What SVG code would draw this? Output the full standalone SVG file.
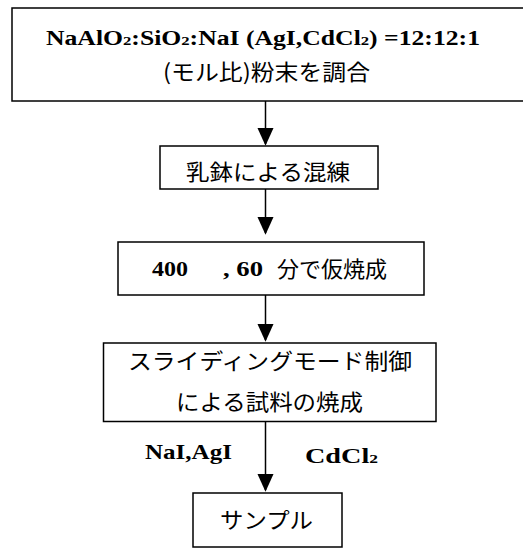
<svg xmlns="http://www.w3.org/2000/svg" width="523" height="549" viewBox="0 0 523 549">
<style>
.box{fill:#fff;stroke:#000;stroke-width:1.5}
.jp{font-family:"Noto Sans CJK JP","Noto Sans",sans-serif;font-size:22px;fill:#000}
.en{font-family:"Liberation Serif","DejaVu Serif",serif;font-weight:bold;font-size:20px;fill:#000}
.lab{font-size:21px}
.sub{font-size:13px}
.line{stroke:#000;stroke-width:1.5;fill:none}
</style>
<defs>
<marker id="ah" markerWidth="18" markerHeight="20" refX="18" refY="9" orient="auto" markerUnits="userSpaceOnUse" viewBox="0 0 20 18">
<path d="M0,0 L20,9 L0,18 Z" fill="#000"/>
</marker>
</defs>
<rect width="523" height="549" fill="#fff"/>
<g id="connectors">
<line class="line" x1="265.5" y1="101" x2="265.5" y2="144" marker-end="url(#ah)"/>
<line class="line" x1="265.5" y1="189" x2="265.5" y2="233" marker-end="url(#ah)"/>
<line class="line" x1="265.5" y1="295" x2="265.5" y2="340" marker-end="url(#ah)"/>
<line class="line" x1="265.5" y1="422" x2="265.5" y2="490" marker-end="url(#ah)"/>
<text class="en lab" x="145" y="459" textLength="87" lengthAdjust="spacingAndGlyphs">NaI,AgI</text>
<text class="en lab" x="305" y="463" textLength="73" lengthAdjust="spacingAndGlyphs">CdCl<tspan class="sub">2</tspan></text>
</g>
<g id="node1">
<rect class="box" x="12" y="8" width="520" height="93"/>
<text class="en" x="46" y="45" textLength="434" lengthAdjust="spacingAndGlyphs">NaAlO<tspan class="sub">2</tspan>:SiO<tspan class="sub">2</tspan>:NaI (AgI,CdCl<tspan class="sub">2</tspan>) =12:12:1</text>
<text class="jp" x="163" y="80" textLength="207" lengthAdjust="spacingAndGlyphs">(モル比)粉末を調合</text>
</g>
<g id="node2">
<rect class="box" x="160" y="146" width="218" height="43"/>
<text class="jp" x="186" y="180" textLength="164" lengthAdjust="spacingAndGlyphs">乳鉢による混練</text>
</g>
<g id="node3">
<rect class="box" x="118" y="242" width="306" height="53"/>
<text class="en" x="152" y="276" textLength="36" lengthAdjust="spacingAndGlyphs">400</text>
<text class="en" x="223" y="276" textLength="40" lengthAdjust="spacingAndGlyphs">, 60</text>
<text class="jp" x="277" y="277" textLength="110" lengthAdjust="spacingAndGlyphs">分で仮焼成</text>
</g>
<g id="node4">
<rect class="box" x="103.5" y="343" width="332.5" height="78.5"/>
<text class="jp" x="128" y="369" textLength="284" lengthAdjust="spacingAndGlyphs">スライディングモード制御</text>
<text class="jp" x="176" y="410" textLength="187" lengthAdjust="spacingAndGlyphs">による試料の焼成</text>
</g>
<g id="node5">
<rect class="box" x="193" y="493" width="149" height="54"/>
<text class="jp" x="220" y="528" textLength="93" lengthAdjust="spacingAndGlyphs">サンプル</text>
</g>
</svg>
